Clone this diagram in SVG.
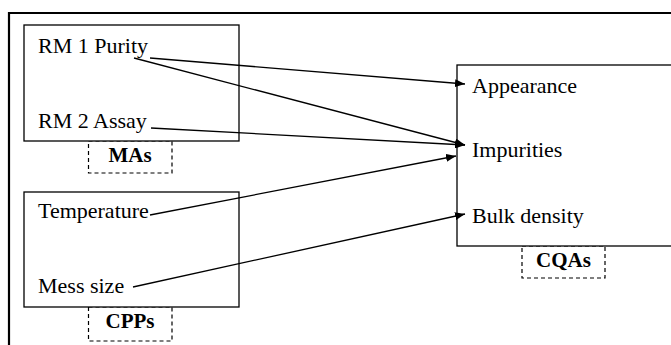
<svg xmlns="http://www.w3.org/2000/svg" width="671" height="345" viewBox="0 0 671 345">
  <style>
    .box { fill: #fff; stroke: #000; stroke-width: 1.3; }
    .tag { fill: #fff; stroke: #000; stroke-width: 1.2; stroke-dasharray: 4 3; }
    .t { font-family: "Liberation Serif", "Times New Roman", serif; font-size: 22px; fill: #000; }
    .b { font-weight: bold; text-anchor: middle; font-size: 21px; }
    .edge { stroke: #000; stroke-width: 1.3; fill: none; marker-end: url(#ah); }
  </style>
  <defs>
    <marker id="ah" viewBox="0 0 10 8" refX="10" refY="4" markerWidth="10" markerHeight="8" markerUnits="userSpaceOnUse" orient="auto">
      <path d="M0,0 L10,4 L0,8 Z" fill="#000"/>
    </marker>
  </defs>
  <rect width="671" height="345" fill="#fff"/>
  <!-- outer frame -->
  <path d="M9,345 V13 H671" fill="none" stroke="#000" stroke-width="2.2"/>

  <g id="mas">
    <rect class="tag" x="88.5" y="141" width="83.5" height="32"/>
    <rect class="box" x="24" y="25" width="215" height="116"/>
    <text class="t" x="38" y="53">RM 1 Purity</text>
    <text class="t" x="38" y="128">RM 2 Assay</text>
    <text class="t b" x="130" y="162">MAs</text>
  </g>

  <g id="cpps">
    <rect class="tag" x="88.5" y="307" width="83.5" height="34"/>
    <rect class="box" x="24" y="192" width="215" height="115"/>
    <text class="t" x="38" y="218">Temperature</text>
    <text class="t" x="38" y="293">Mess size</text>
    <text class="t b" x="130" y="328">CPPs</text>
  </g>

  <g id="cqas">
    <rect class="tag" x="522" y="246" width="83" height="32"/>
    <rect class="box" x="457" y="65" width="220" height="181"/>
    <text class="t" x="472" y="93">Appearance</text>
    <text class="t" x="472" y="157">Impurities</text>
    <text class="t" x="472" y="223">Bulk density</text>
    <text class="t b" x="563.5" y="267">CQAs</text>
  </g>

  <g id="connectors">
    <line class="edge" x1="150" y1="58" x2="465" y2="84"/>
    <line class="edge" x1="134" y1="58" x2="465" y2="145"/>
    <line class="edge" x1="151" y1="128" x2="465" y2="145"/>
    <line class="edge" x1="150" y1="215" x2="456" y2="156"/>
    <line class="edge" x1="133" y1="287" x2="465" y2="214"/>
  </g>
</svg>
